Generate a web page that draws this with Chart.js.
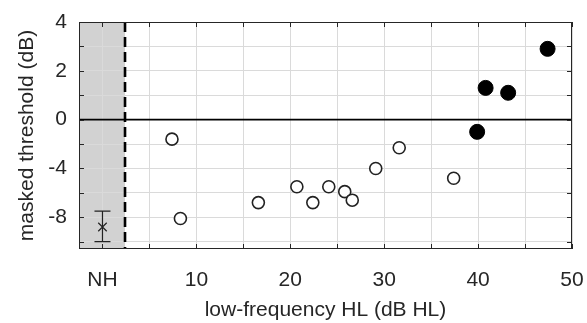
<!DOCTYPE html>
<html>
<head>
<meta charset="utf-8">
<script src="https://cdn.jsdelivr.net/npm/chart.js@4.4.0/dist/chart.umd.min.js"></script>
<style>
  html, body { margin: 0; padding: 0; background: #fff; }
</style>
</head>
<body>
<canvas id="maskChart" width="587" height="323"></canvas>
<script>
// values (x in dB HL, y in dB as labelled)
var hlOpen = [7.4, 8.3, 16.6, 20.7, 22.4, 24.1, 25.8, 26.6, 29.1, 31.6, 37.4];
var thrOpen = [-1.6, -8.1, -6.8, -5.5, -6.8, -5.5, -5.9, -6.6, -4.0, -2.3, -4.8];
var hlFilled = [39.9, 40.8, 43.2, 47.4];
var thrFilled = [-1.0, 1.3, 1.1, 2.9];
var nhMean = -8.8, nhUpper = -7.5, nhLower = -10.0;
var nhBoundary = 2.4;
var xTicks = [0, 5, 10, 15, 20, 25, 30, 35, 40, 45, 50];
var xTickLabels = {0: 'NH', 10: '10', 20: '20', 30: '30', 40: '40', 50: '50'};
var yTicks = [-5, -4, -3, -2, -1, 0, 1, 2, 3, 4];
var yTickLabels = {4: '4', 2: '2', 0: '0', '-2': '-4', '-4': '-8'};

// the y axis in the figure is stretched by 2 below zero
function toAxis(v) { return v >= 0 ? v : v / 2; }

function pts(xs, ys) {
  return xs.map(function(x, i) { return {x: x, y: toAxis(ys[i])}; });
}

var ink = '#262626';

var figurePlugin = {
  id: 'figureBits',
  beforeDatasetsDraw: function(chart) {
    var ctx = chart.ctx, a = chart.chartArea;
    var xs = chart.scales.x, ys = chart.scales.y;
    ctx.save();
    // zero line
    ctx.strokeStyle = '#000';
    ctx.lineWidth = 1.6;
    ctx.beginPath();
    ctx.moveTo(a.left, ys.getPixelForValue(0));
    ctx.lineTo(a.right, ys.getPixelForValue(0));
    ctx.stroke();
    // dashed NH boundary
    var bx = xs.getPixelForValue(nhBoundary);
    ctx.lineWidth = 2.6;
    ctx.setLineDash([10, 5]);
    ctx.beginPath();
    ctx.moveTo(bx, a.top);
    ctx.lineTo(bx, a.bottom);
    ctx.stroke();
    ctx.setLineDash([]);
    // NH error bar
    var ex = xs.getPixelForValue(0);
    var yt = ys.getPixelForValue(toAxis(nhUpper));
    var yb = ys.getPixelForValue(toAxis(nhLower));
    ctx.strokeStyle = '#222';
    ctx.lineWidth = 1.2;
    ctx.beginPath();
    ctx.moveTo(ex, yt); ctx.lineTo(ex, yb);
    ctx.moveTo(ex - 8, yt); ctx.lineTo(ex + 8, yt);
    ctx.moveTo(ex - 8, yb); ctx.lineTo(ex + 8, yb);
    ctx.stroke();
    ctx.restore();
  },
  beforeDraw: function(chart) {
    var ctx = chart.ctx, a = chart.chartArea;
    var xs = chart.scales.x;
    ctx.save();
    ctx.fillStyle = '#d2d2d2';
    var bx = xs.getPixelForValue(nhBoundary);
    ctx.fillRect(a.left, a.top, bx - a.left, a.bottom - a.top);
    ctx.restore();
  },
  afterDraw: function(chart) {
    var ctx = chart.ctx, a = chart.chartArea;
    var xs = chart.scales.x, ys = chart.scales.y;
    ctx.save();
    ctx.strokeStyle = ink;
    ctx.lineWidth = 1;
    ctx.strokeRect(a.left + 0.5, a.top + 0.5, a.right - a.left - 1, a.bottom - a.top - 1);
    ctx.beginPath();
    xs.ticks.forEach(function(t) {
      var p = Math.round(xs.getPixelForValue(t.value)) + 0.5;
      ctx.moveTo(p, a.bottom); ctx.lineTo(p, a.bottom - 5);
      ctx.moveTo(p, a.top); ctx.lineTo(p, a.top + 5);
    });
    ys.ticks.forEach(function(t) {
      var p = Math.round(ys.getPixelForValue(t.value)) + 0.5;
      ctx.moveTo(a.left, p); ctx.lineTo(a.left + 5, p);
      ctx.moveTo(a.right, p); ctx.lineTo(a.right - 5, p);
    });
    ctx.stroke();
    ctx.restore();
  }
};

var ctx = document.getElementById('maskChart');
var maskChart = new Chart(ctx, {
  type: 'scatter',
  data: {
    datasets: [{
      label: 'NH',
      data: [{x: 0, y: toAxis(nhMean)}],
      pointStyle: 'crossRot',
      pointRadius: 6,
      borderColor: '#222',
      borderWidth: 1.2
    }, {
      label: 'open',
      data: pts(hlOpen, thrOpen),
      pointStyle: 'circle',
      pointRadius: 6,
      backgroundColor: '#fff',
      borderColor: '#222',
      borderWidth: 1.6
    }, {
      label: 'filled',
      data: pts(hlFilled, thrFilled),
      pointStyle: 'circle',
      pointRadius: 7.5,
      backgroundColor: '#000',
      borderColor: '#000',
      borderWidth: 1
    }]
  },
  options: {
    responsive: false,
    animation: false,
    layout: { padding: { top: 22, right: 15, left: 0, bottom: 0 } },
    plugins: { legend: { display: false }, tooltip: { enabled: false } },
    scales: {
      x: {
        type: 'linear',
        min: -2.5,
        max: 50,
        ticks: {
          autoSkip: false,
          maxRotation: 0,
          padding: 19,
          color: ink,
          font: { family: 'Liberation Sans', size: 21 },
          callback: function(v) { return xTickLabels[v] !== undefined ? xTickLabels[v] : ''; }
        },
        afterBuildTicks: function(s) {
          s.ticks = xTicks.map(function(v) { return {value: v}; });
        },
        afterFit: function(s) { s.height = 74; s.paddingRight = 0; },
        grid: { color: '#dadada', drawTicks: false },
        border: { display: false },
        title: {
          display: true,
          text: 'low-frequency HL (dB HL)',
          color: ink,
          font: { family: 'Liberation Sans', size: 21 },
          padding: { top: 2, bottom: 0 }
        }
      },
      y: {
        type: 'linear',
        min: -5.3,
        max: 4,
        ticks: {
          autoSkip: false,
          padding: 12,
          color: ink,
          font: { family: 'Liberation Sans', size: 21 },
          callback: function(v) { return yTickLabels[v] !== undefined ? yTickLabels[v] : ''; }
        },
        afterBuildTicks: function(s) {
          s.ticks = yTicks.map(function(v) { return {value: v}; });
        },
        afterFit: function(s) { s.width = 79; s.paddingTop = 0; },
        grid: { color: '#dadada', drawTicks: false },
        border: { display: false },
        title: {
          display: true,
          text: 'masked threshold (dB)',
          color: ink,
          font: { family: 'Liberation Sans', size: 21 },
          padding: { top: 15, bottom: 4 }
        }
      }
    }
  },
  plugins: [figurePlugin]
});
</script>
</body>
</html>
